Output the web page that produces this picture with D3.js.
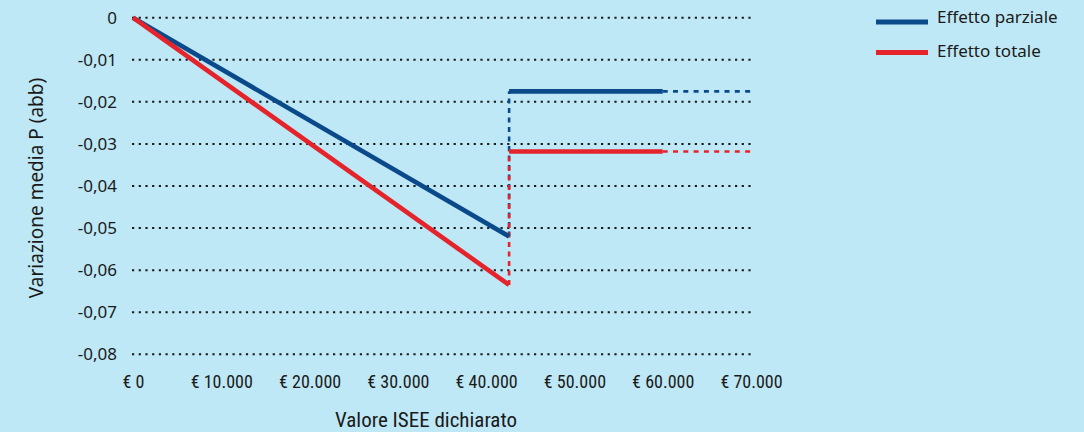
<!DOCTYPE html>
<html><head><meta charset="utf-8">
<script src="https://cdn.jsdelivr.net/npm/d3@7"></script>
<style>
html,body{margin:0;padding:0;background:#bee8f5;}
svg{display:block;}
</style></head>
<body>
<svg id="chart" width="1084" height="432"></svg>
<script>
// Data
const seriesNames = ["Effetto parziale", "Effetto totale"];
const seriesColors = ["#0b4a8a", "#e4232a"];
const threshold = 42600;
const solidX = [0, threshold, threshold, 60000];
const partialSolid = [0, -0.052, -0.0175, -0.0175];
const totalSolid = [0, -0.0635, -0.0318, -0.0318];
const dashedX = [60000, 70000];
const partialDashed = [-0.0175, -0.0175];
const totalDashed = [-0.0318, -0.0318];
const xTicks = [0, 10000, 20000, 30000, 40000, 50000, 60000, 70000];
const xTickLabels = ["€ 0", "€ 10.000", "€ 20.000", "€ 30.000", "€ 40.000", "€ 50.000", "€ 60.000", "€ 70.000"];
const yTicks = [0, -0.01, -0.02, -0.03, -0.04, -0.05, -0.06, -0.07, -0.08];
const yTickLabels = ["0", "-0,01", "-0,02", "-0,03", "-0,04", "-0,05", "-0,06", "-0,07", "-0,08"];

const svg = d3.select("#chart");
svg.append("rect").attr("width",1084).attr("height",432).attr("fill","#bee8f5");

const x = d3.scaleLinear().domain([0,70000]).range([133,751]);
const y = d3.scaleLinear().domain([0,-0.08]).range([17.7,354.3]);
const narrow = "'Liberation Sans Narrow','Roboto Condensed',sans-serif";
const sans = "'Noto Sans', sans-serif";
const ink = "#1a1a1a";

// gridlines
svg.append("g").selectAll("line").data(yTicks).join("line")
  .attr("x1",132).attr("x2",752)
  .attr("y1",d=>y(d)).attr("y2",d=>y(d))
  .attr("stroke","#1a1a1a").attr("stroke-width",2)
  .attr("stroke-dasharray","2.2,4.5");

// y tick labels
svg.append("g").selectAll("text").data(yTicks).join("text")
  .attr("x",117).attr("y",d=>y(d)).attr("dy","0.35em")
  .attr("text-anchor","end")
  .attr("font-family",sans).attr("font-size",17)
  .attr("fill",ink)
  .text((d,i)=>yTickLabels[i]);

// x tick labels
const xAxis = d3.axisBottom(x).tickValues(xTicks).tickSize(0).tickFormat((d,i)=>xTickLabels[i]);
const gx = svg.append("g").attr("transform","translate(0,372)").call(xAxis);
gx.select(".domain").remove();
gx.selectAll("text").attr("font-family",narrow)
  .attr("font-size",18).attr("fill",ink);

// axis titles
svg.append("text").attr("transform","translate(36,188) rotate(-90)")
  .attr("text-anchor","middle").attr("dy","0.35em")
  .attr("font-family",sans).attr("font-size",19).attr("fill",ink)
  .text("Variazione media P (abb)");
svg.append("text").attr("x",426).attr("y",427).attr("text-anchor","middle")
  .attr("font-family",narrow)
  .attr("font-size",21).attr("fill",ink)
  .text("Valore ISEE dichiarato");

const line = d3.line().x(d=>x(d[0])).y(d=>y(d[1]));

// dashed vertical connectors (from threshold bottom to jump)
const connectors = [
  {pts:[[threshold,partialSolid[1]],[threshold,partialSolid[2]]], c:seriesColors[0]},
  {pts:[[threshold,totalSolid[1]],[threshold,totalSolid[2]]], c:seriesColors[1]}
];
connectors.forEach(cn=>{
  svg.append("path").attr("d",line(cn.pts)).attr("fill","none")
    .attr("stroke",cn.c).attr("stroke-width",2.6).attr("stroke-dasharray","5,4.5");
});

// solid segments: diagonal and plateau
function solidParts(vals){
  return [
    [[solidX[0],vals[0]],[solidX[1],vals[1]]],
    [[solidX[2],vals[2]],[solidX[3],vals[3]]]
  ];
}
[partialSolid,totalSolid].forEach((vals,i)=>{
  solidParts(vals).forEach(seg=>{
    svg.append("path").attr("d",line(seg)).attr("fill","none")
      .attr("stroke",seriesColors[i]).attr("stroke-width",4.6);
  });
});

// dashed extensions
[partialDashed,totalDashed].forEach((vals,i)=>{
  svg.append("path").attr("d",line(dashedX.map((xx,j)=>[xx,vals[j]]))).attr("fill","none")
    .attr("stroke",seriesColors[i]).attr("stroke-width",2.6).attr("stroke-dasharray","5,5.3");
});

// legend
const lg = svg.append("g");
const legendLineY = [22, 52.5];
const legendTextY = [17, 51];
seriesNames.forEach((n,i)=>{
  lg.append("line").attr("x1",876).attr("x2",928).attr("y1",legendLineY[i]).attr("y2",legendLineY[i])
    .attr("stroke",seriesColors[i]).attr("stroke-width",5);
  lg.append("text").attr("x",937).attr("y",legendTextY[i]).attr("dy","0.35em")
    .attr("font-family",sans).attr("font-size",17).attr("fill",ink)
    .text(n);
});
</script>
</body></html>
